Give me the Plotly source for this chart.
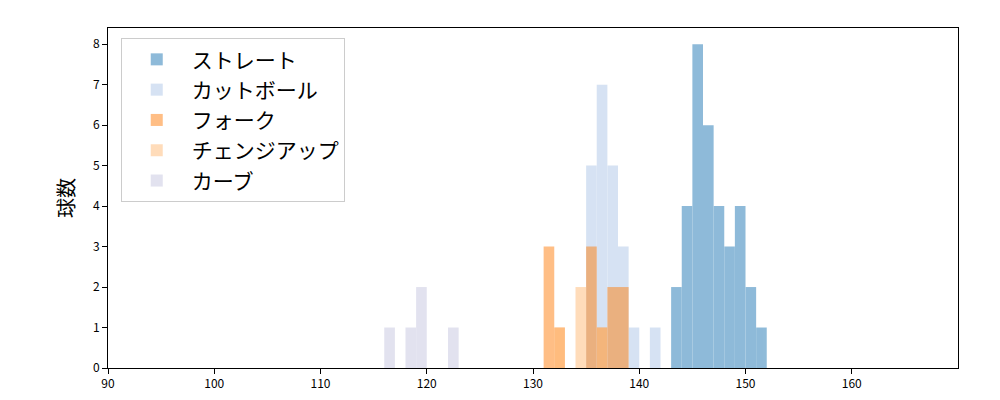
import plotly.graph_objects as go

names = ["ストレート", "カットボール", "フォーク", "チェンジアップ", "カーブ"]
colors = ["#1f77b4", "#aec7e8", "#ff7f0e", "#ffbb78", "#c6c6e0"]
bins = [
    [143, 144, 145, 146, 147, 148, 149, 150, 151],
    [135, 136, 137, 138, 139, 141],
    [131, 132, 135, 136, 137, 138],
    [134, 136, 132],
    [116, 118, 119, 122],
]
counts = [
    [2, 4, 8, 6, 4, 3, 4, 2, 1],
    [5, 7, 5, 3, 1, 1],
    [3, 1, 3, 1, 2, 2],
    [2, 1, 1],
    [1, 1, 2, 1],
]

fig = go.Figure()
for n, c, b, v in zip(names, colors, bins, counts):
    fig.add_trace(go.Bar(x=[x + 0.5 for x in b], y=v, width=1, name=n,
                         marker=dict(color=c, line_width=0), opacity=0.5))

ax = dict(showgrid=False, zeroline=False, showline=True, mirror=True, linecolor="black",
          ticks="outside", tickcolor="black", tickfont=dict(size=12, color="black"),
          automargin=False)
fig.update_layout(
    barmode="overlay", width=1000, height=400, plot_bgcolor="white", paper_bgcolor="white",
    margin=dict(l=100, r=50, t=20, b=40, autoexpand=False),
    font=dict(family="Noto Sans CJK JP", color="black"),
    xaxis=dict(ax, range=[90, 170], tickvals=list(range(90, 170, 10))),
    yaxis=dict(ax, range=[0, 8.4], dtick=1, title=dict(text="球数", font=dict(size=20), standoff=12)),
    legend=dict(x=0.015, y=0.97, xanchor="left", yanchor="top", bgcolor="white",
                bordercolor="#cccccc", borderwidth=1, font=dict(size=21), itemwidth=60,
                tracegroupgap=2),
)
fig.write_html("out.html")
